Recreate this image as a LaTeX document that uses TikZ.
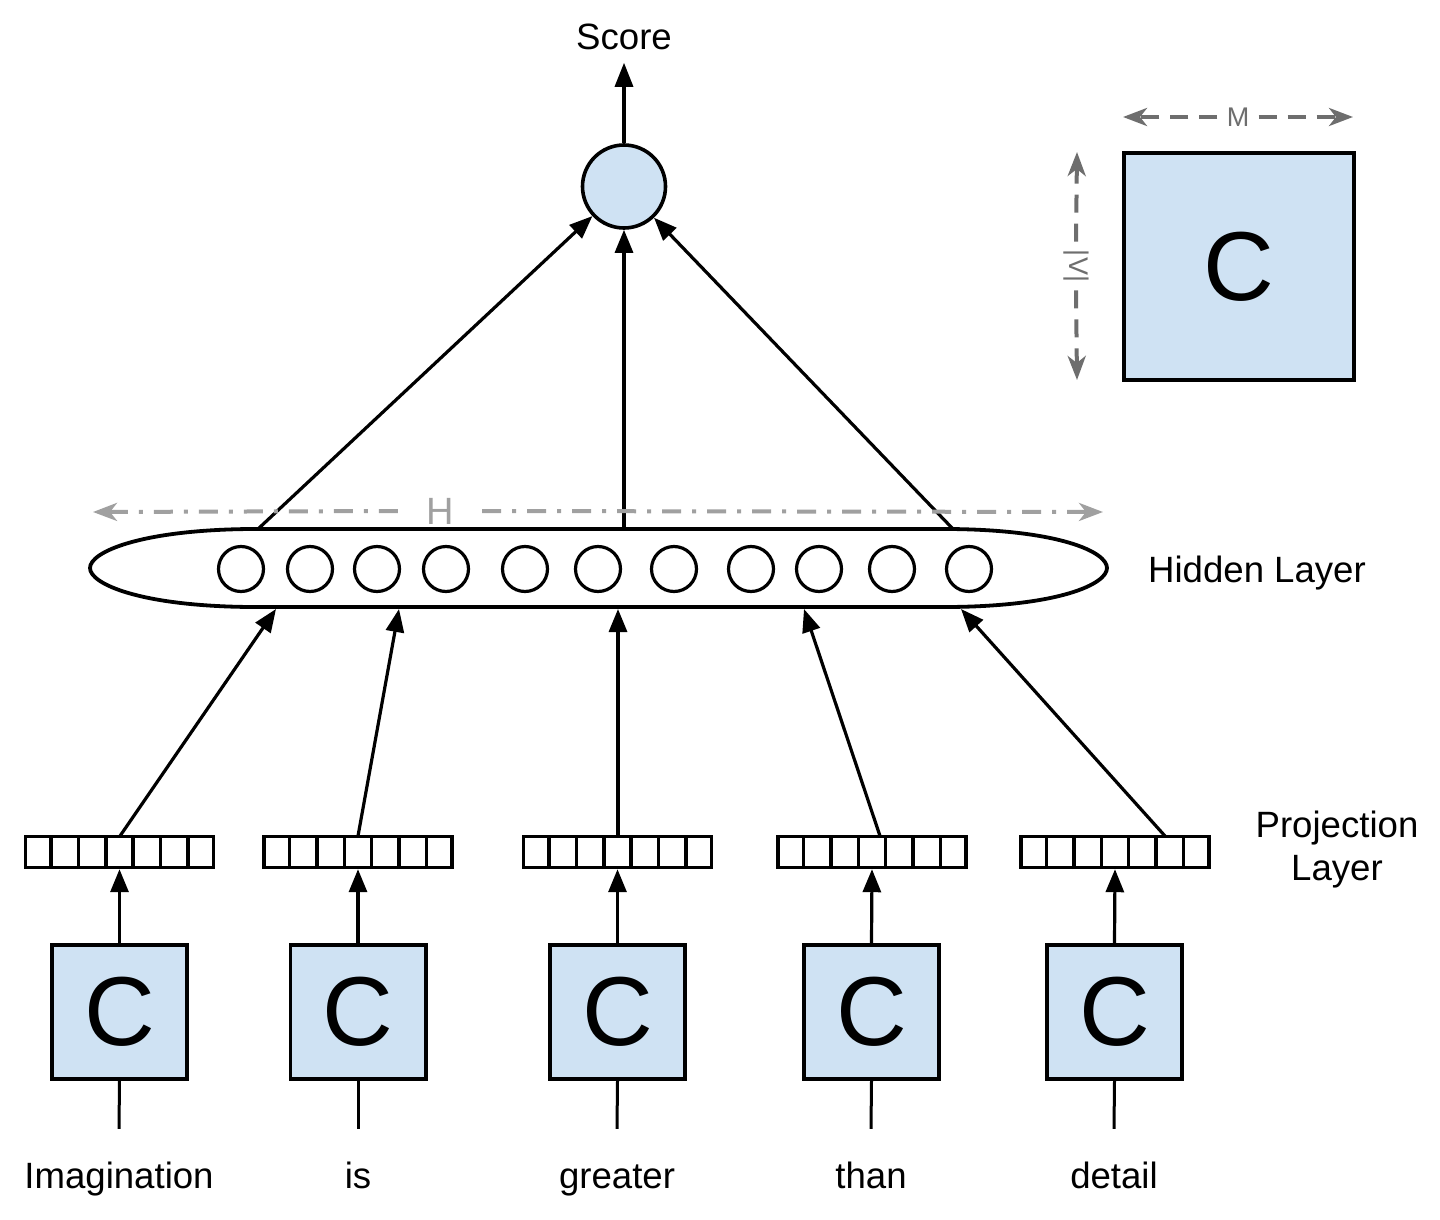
\documentclass[tikz,border=0pt]{standalone}
\usepackage{fontspec}
\setmainfont{Liberation Sans}
\usetikzlibrary{arrows.meta,calc}
\definecolor{cblue}{HTML}{CFE2F3}
\definecolor{dgray}{HTML}{6E6E6E}
\definecolor{lgray}{HTML}{A0A0A0}
\begin{document}
\begin{tikzpicture}[x=0.5pt,y=-0.5pt,
  lbl/.style={font=\fontsize{18.3}{21.5}\selectfont, inner sep=0pt},
  cbox/.style={draw, line width=1.9pt, fill=cblue, minimum width=67.6pt, minimum height=67.1pt, inner sep=0pt, font=\fontsize{49}{49}\selectfont},
  pvec/.style={draw, line width=1.7pt, minimum width=94pt, minimum height=15.5pt, inner sep=0pt},
  hunit/.style={draw, circle, line width=1.6pt, minimum size=22.5pt, inner sep=0pt},
  conn/.style={line width=1.6pt, -{Triangle[length=11.5pt,width=9pt]}},
  plainline/.style={line width=1.5pt},
  dimarrow/.style={dgray, line width=2pt, dash pattern=on 9pt off 5.5pt, -{Stealth[length=12pt,width=9pt,inset=3.5pt]}},
  harrow/.style={lgray, line width=2pt, dash pattern=on 9.5pt off 5.5pt on 2pt off 5.5pt, -{Stealth[length=12pt,width=9pt,inset=3.5pt]}},
  word/.style={lbl, anchor=base, text height=13.4pt, text depth=4pt, inner ysep=16pt},
  small/.style={font=\fontsize{13.5}{13.5}\selectfont, text=dgray, inner ysep=0pt}
]
\useasboundingbox (0,0) rectangle (1440,1220);

% hidden layer envelope
\draw[line width=1.9pt] (250,529) -- (950,529)
  .. controls (1060,530) and (1107,552) .. (1107,568)
  .. controls (1107,584) and (1060,606) .. (950,607)
  -- (250,607)
  .. controls (140,606) and (90,584) .. (90,568)
  .. controls (90,552) and (140,530) .. (250,529) -- cycle;

% hidden units
\foreach \x [count=\i] in {241,310,377,446,525,598,674,751,819,892,969}
  \node[hunit] (h\i) at (\x,569) {};

% score
\node[draw, circle, fill=cblue, line width=1.8pt, minimum size=41.5pt, inner sep=0pt] (score) at (624,186.5) {};
\node[lbl, anchor=base, inner ysep=6pt] (slbl) at (624,50) {Score};
\draw[line width=1.6pt, -{Triangle[length=12pt,width=9pt]}] (score) -- (slbl);

% connectors hidden -> score
\coordinate (e1) at (258,529);
\coordinate (e2) at (624,529);
\coordinate (e3) at (953,529);
\draw[conn] (e1) -- (score);
\draw[conn] (e2) -- (score);
\draw[conn] (e3) -- (score);

% H dimension
\node[font=\fontsize{19}{19}\selectfont, inner ysep=0pt, text=lgray, inner xsep=14pt] (hlbl) at (440,511) {H};
\coordinate (hl) at (93,512);
\coordinate (hr) at (1103,512);
\draw[harrow] (hlbl.west) -- (hl);
\draw[harrow] (hlbl.east) -- (hr);

% projection vectors
\node[pvec] (p1) at (119.5,852) {};
\node[pvec] (p2) at (358,852) {};
\node[pvec] (p3) at (617.5,852) {};
\node[pvec] (p4) at (872,852) {};
\node[pvec] (p5) at (1115,852) {};
\foreach \p in {p1,p2,p3,p4,p5}
  \foreach \i in {1,...,6}
    \draw[line width=1.7pt] ($(\p.south west)!{\i/7}!(\p.south east)$) -- ($(\p.north west)!{\i/7}!(\p.north east)$);

% projection -> hidden
\coordinate (q1) at (120,836);
\coordinate (q2) at (358,836);
\coordinate (q3) at (618,836);
\coordinate (q4) at (880,836);
\coordinate (q5) at (1165,836);
\coordinate (t1) at (276,609);
\coordinate (t2) at (399,609);
\coordinate (t3) at (618,609);
\coordinate (t4) at (804,609);
\coordinate (t5) at (961,609);
\foreach \i in {1,...,5}
  \draw[conn] (q\i) -- (t\i);

% C boxes and words
\node[cbox] (c1) at (119.5,1012) {C};
\node[cbox] (c2) at (358,1012) {C};
\node[cbox] (c3) at (617.5,1012) {C};
\node[cbox] (c4) at (871.5,1012) {C};
\node[cbox] (c5) at (1114.5,1012) {C};
\node[word] (w1) at (119,1188) {Imagination};
\node[word] (w2) at (358,1188) {is};
\node[word] (w3) at (617,1188) {greater};
\node[word] (w4) at (871,1188) {than};
\node[word] (w5) at (1114,1188) {detail};
\foreach \i in {1,...,5} {
  \draw[conn] (c\i.north) -- (p\i.south);
  \draw[plainline] (c\i.south) -- (w\i.north);
}

% layer labels
\node[lbl, anchor=base] (hid) at (1257,582) {Hidden Layer};
\node[lbl, align=center] (proj) at (1337,850) {Projection\\Layer};

% embedding matrix
\node[cbox, minimum width=115.1pt, minimum height=113.6pt] (cm) at (1239,266.5) {C};
\node[small, inner xsep=4.5pt] (mlbl) at (1238,117) {M};
\coordinate (ml) at (1123,117);
\coordinate (mr) at (1353,117);
\draw[dimarrow] (mlbl.west) -- (ml);
\draw[dimarrow] (mlbl.east) -- (mr);
\node[small, inner xsep=4pt, rotate=-90] (vlbl) at (1076,266) {|V|};
\coordinate (vt) at (1077,152);
\coordinate (vb) at (1077,380);
\draw[dimarrow] (vlbl.west) -- (vt);
\draw[dimarrow] (vlbl.east) -- (vb);
\end{tikzpicture}
\end{document}
